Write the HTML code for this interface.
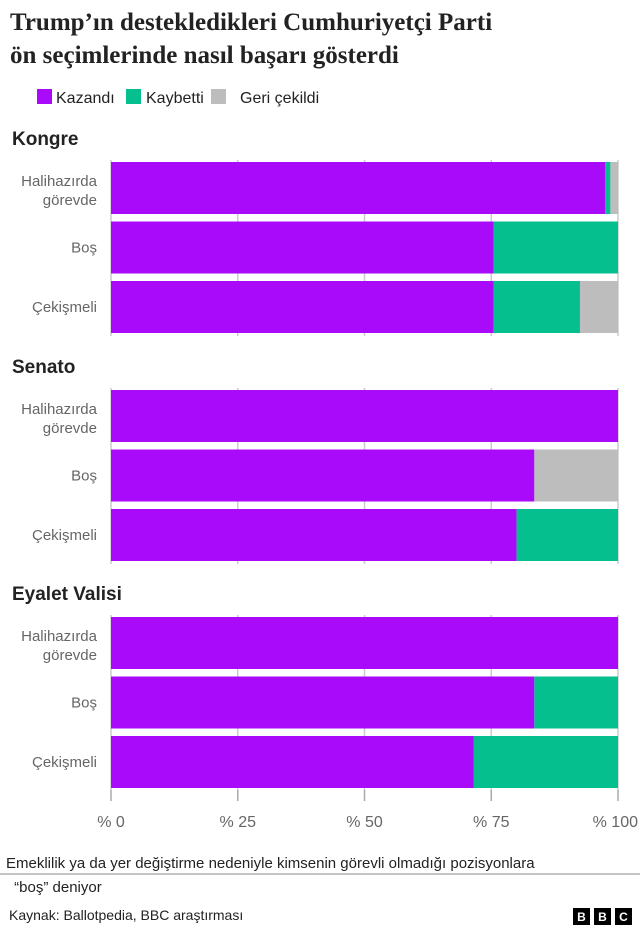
<!DOCTYPE html>
<html><head><meta charset="utf-8"><style>
body{margin:0;width:640px;height:931px;background:#fff;font-family:"Liberation Sans",sans-serif;overflow:hidden}
</style></head><body>
<svg width="640" height="931" xmlns="http://www.w3.org/2000/svg" id="svg">
<text x="10" y="30" font-family="Liberation Serif, serif" font-size="25" font-weight="bold" fill="#222">Trump’ın destekledikleri Cumhuriyetçi Parti</text>
<text x="10" y="63" font-family="Liberation Serif, serif" font-size="25" font-weight="bold" fill="#222">ön seçimlerinde nasıl başarı gösterdi</text>
<g font-size="16" fill="#222">
<rect x="37" y="89" width="15" height="15" fill="#aa0afa"/>
<text x="56" y="103">Kazandı</text>
<rect x="126" y="89" width="15" height="15" fill="#05bf8f"/>
<text x="146" y="103">Kaybetti</text>
<rect x="211" y="89" width="15" height="15" fill="#bdbdbd"/>
<text x="240" y="103">Geri çekildi</text>
</g>
<g id="plot"></g>
<line x1="0" y1="874" x2="640" y2="874" stroke="#888" stroke-width="1"/>
<text x="6" y="868" font-size="15" fill="#222"><tspan x="6" y="868">Emeklilik ya da yer değiştirme nedeniyle kimsenin görevli olmadığı pozisyonlara</tspan><tspan x="10" y="892"> “boş” deniyor</tspan></text>
<text x="9" y="920" font-size="14" fill="#222">Kaynak: Ballotpedia, BBC araştırması</text>
<g font-size="12" font-weight="bold" fill="#fff" text-anchor="middle">
<rect x="573" y="908" width="17" height="17" fill="#000"/><text x="581.5" y="921">B</text>
<rect x="594" y="908" width="17" height="17" fill="#000"/><text x="602.5" y="921">B</text>
<rect x="615" y="908" width="17" height="17" fill="#000"/><text x="623.5" y="921">C</text>
</g>
</svg>
<script>
const panels=["Kongre","Senato","Eyalet Valisi"];
const categories=["Halihazırda görevde","Boş","Çekişmeli"];
const won=[[97.5,75.5,75.5],[100,83.5,80],[100,83.5,71.5]];
const lost=[[1,24.5,17],[0,0,20],[0,16.5,28.5]];
const withdrew=[[1.5,0,7.5],[0,16.5,0],[0,0,0]];
const ticks=[0,25,50,75,100];
const tickLabels=["% 0","% 25","% 50","% 75","% 100"];
const colors=["#aa0afa","#05bf8f","#bdbdbd"];
const NS="http://www.w3.org/2000/svg";
const g=document.getElementById("plot");
const x0=111,x1=618;
const xs=v=>x0+(x1-x0)*v/100;
const panelTop=[160,388,615];
function mk(t,a,p){const e=document.createElementNS(NS,t);for(const k in a)e.setAttribute(k,a[k]);(p||g).appendChild(e);return e;}
panels.forEach((pn,pi)=>{
  const top=panelTop[pi];
  const h=mk("text",{x:12,y:top-15,"font-size":19,"font-weight":"bold",fill:"#222"});
  h.textContent=pn;
  
  
  const bottom=pi===2?790:top+176;
  ticks.forEach(t=>{
    const l=mk("line",{x1:xs(t),x2:xs(t),y1:top,y2:bottom,stroke:"#ccc","stroke-width":1.5});
    
    
  });
  categories.forEach((c,ci)=>{
    const y=top+2+ci*59.5, bh=52;
    let acc=0;
    [won,lost,withdrew].forEach((s,si)=>{
      const v=s[pi][ci];
      if(v>0){
        const r=mk("rect",{x:xs(acc),y:y,width:xs(acc+v)-xs(acc),height:bh,fill:colors[si]});
        
        
      }
      acc+=v;
    });
    const lines=c.split(" ");
    if(ci===0){
      const t=mk("text",{x:97,y:y+24,"font-size":15,fill:"#666","text-anchor":"end"});
      t.textContent="Halihazırda";
      
      
      const t2=mk("text",{x:97,y:y+43,"font-size":15,fill:"#666","text-anchor":"end"});
      t2.textContent="görevde";
      
      
    } else {
      const t=mk("text",{x:97,y:y+31,"font-size":15,fill:"#666","text-anchor":"end"});
      t.textContent=c;
      
      
    }
  });
});
ticks.forEach((t,i)=>{
  const l=mk("line",{x1:xs(t),x2:xs(t),y1:790,y2:801,stroke:"#aaa","stroke-width":1.5});
  
  
  const tx=mk("text",{x:xs(t),y:827,"font-size":16,fill:"#666","text-anchor":i===4?"end":"middle"});
  if(i===4)tx.setAttribute("x",xs(t)+20);
  tx.textContent=tickLabels[i];
  
  
});
</script>
</body></html>
